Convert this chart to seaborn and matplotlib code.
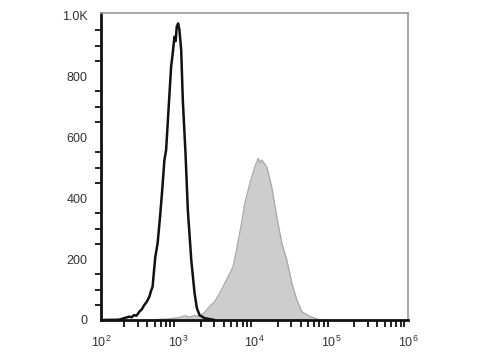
import matplotlib
matplotlib.use("Agg")
import matplotlib.pyplot as plt
import matplotlib.ticker as mticker
import seaborn as sns
import pandas as pd
import numpy as np

# Control (isotype) histogram - black outline
ctrl_x = [100, 172, 233, 250, 270, 290, 315, 340, 366, 395, 426, 448, 470, 490, 510, 547,
          588, 625, 670, 705, 762, 819, 860, 905, 940, 970, 1012, 1052, 1109, 1164,
          1262, 1353, 1500, 1656, 1775, 1923, 2238, 3027]
ctrl_y = [0, 1, 11, 9, 16, 14, 27, 35, 49, 60, 76, 95, 109, 160, 207, 252,
          339, 421, 525, 557, 699, 830, 875, 929, 915, 962, 973, 951, 885, 721,
          547, 361, 197, 88, 39, 16, 6, 0]

# Stained sample histogram - gray filled
stain_x = [426, 778, 1052, 1250, 1422, 1650, 1923, 2238, 2602, 3027, 3522, 4307, 5256,
           5834, 6780, 7484, 8704, 10120, 11190, 11800, 12390, 14410, 16760, 19490,
           22660, 26350, 30640, 35630, 41430, 53200, 71900]
stain_y = [0, 4, 8, 14, 9, 15, 11, 25, 44, 60, 88, 131, 175,
           230, 317, 383, 448, 503, 530, 515, 525, 503, 437, 339,
           252, 197, 121, 66, 27, 11, 0]

x_ticks = [1e2, 1e3, 1e4, 1e5, 1e6]
x_labels = ["10$^{2}$", "10$^{3}$", "10$^{4}$", "10$^{5}$", "10$^{6}$"]
y_ticks = [0, 200, 400, 600, 800, 1000]
y_labels = ["0", "200", "400", "600", "800", "1.0K"]

sns.set_theme(style="white")
plt.rcParams["font.family"] = ["Liberation Sans", "DejaVu Sans"]
plt.rcParams["mathtext.fontset"] = "custom"
plt.rcParams["mathtext.rm"] = "Liberation Sans"
plt.rcParams["mathtext.it"] = "Liberation Sans:italic"
plt.rcParams["mathtext.bf"] = "Liberation Sans:bold"
plt.rcParams["mathtext.default"] = "regular"

ctrl = pd.DataFrame({"x": ctrl_x, "y": ctrl_y})
stain = pd.DataFrame({"x": stain_x, "y": stain_y})

fig = plt.figure(figsize=(4.8, 3.6), dpi=100)
ax = fig.add_axes([101 / 480, 1 - 320 / 360, (408 - 101) / 480, (320 - 13) / 360])

ax.fill_between(stain["x"], stain["y"], color="#cdcdcd", linewidth=0, zorder=1)
sns.lineplot(data=stain, x="x", y="y", sort=False, color="#ababab", linewidth=1.0, ax=ax, zorder=2)
sns.lineplot(data=ctrl, x="x", y="y", sort=False, color="#111111", linewidth=1.8, ax=ax, zorder=3)

ax.set_xscale("log")
ax.set_xlim(1e2, 1e6)
ax.set_ylim(0, 1007)
ax.set_xticks(x_ticks)
ax.set_xticklabels(x_labels)
ax.xaxis.set_minor_locator(mticker.LogLocator(base=10, subs=np.arange(2, 10)))
ax.xaxis.set_minor_formatter(mticker.NullFormatter())
ax.set_yticks(y_ticks)
ax.set_yticklabels(y_labels)
ax.yaxis.set_minor_locator(mticker.MultipleLocator(50))
ax.set_xlabel("")
ax.set_ylabel("")

ax.tick_params(axis="both", which="major", direction="out", colors="#111111",
               labelcolor="#333333")
ax.tick_params(axis="y", which="major", length=6.5, width=2.2, pad=3, labelsize=9)
ax.tick_params(axis="y", which="minor", length=4, width=1.3, left=True, color="#111111")
ax.tick_params(axis="x", which="major", length=8, width=2.2, pad=2.5, labelsize=9)
ax.tick_params(axis="x", which="minor", length=5, width=1.3, bottom=True, color="#111111")

for side in ["left", "bottom"]:
    ax.spines[side].set_color("#111111")
    ax.spines[side].set_linewidth(2.0)
for side in ["top", "right"]:
    ax.spines[side].set_color("#999999")
    ax.spines[side].set_linewidth(1.2)

fig.savefig("out.png", dpi=100)
